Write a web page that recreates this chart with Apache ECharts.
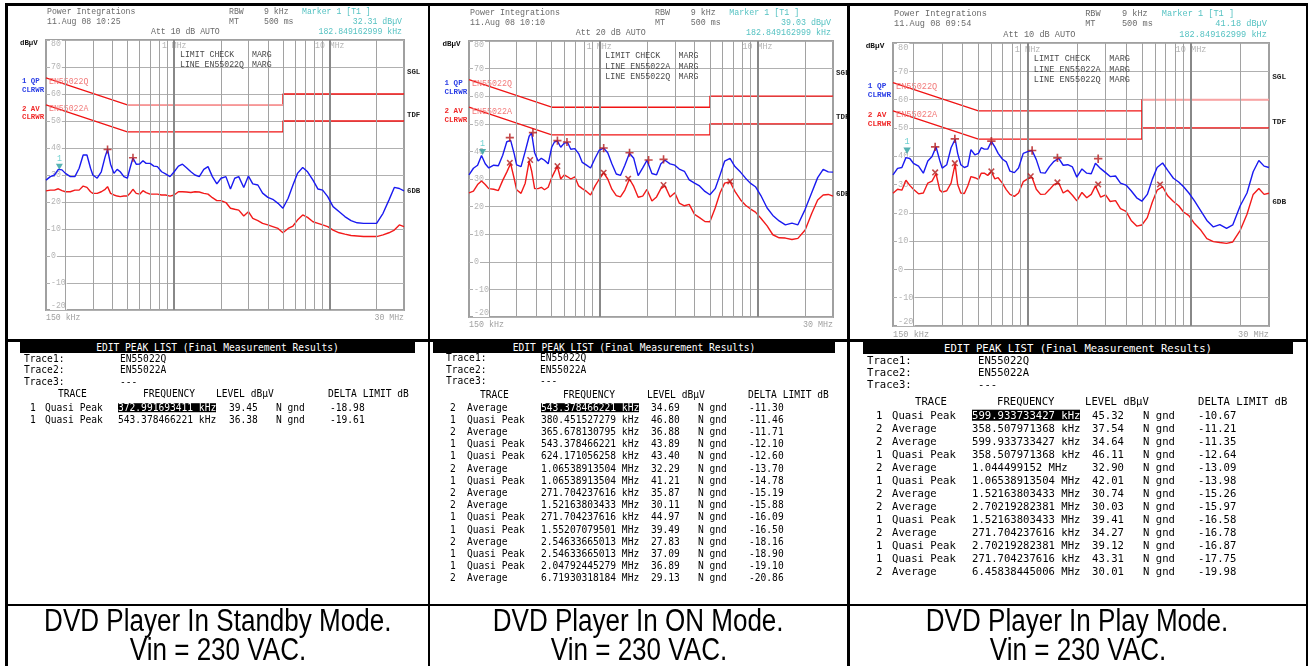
<!DOCTYPE html>
<html>
<head>
<meta charset="utf-8">
<title>Conducted EMI - DVD player</title>
<script src="https://cdn.jsdelivr.net/npm/echarts@6.0.0/dist/echarts.min.js"></script>
<style>
  html, body { margin: 0; padding: 0; background: #fff; }
  #page { position: relative; width: 1313px; height: 666px; overflow: hidden; }
  #chart { position: absolute; left: 0; top: 0; width: 1313px; height: 666px; }
  .rule { position: absolute; background: #000; }
  .t { position: absolute; white-space: pre; line-height: 1; transform: translateY(-50%);
       font-family: "DejaVu Sans Mono", "Liberation Mono", monospace; color: #000; }
  .bar { position: absolute; background: #000; color: #fff; text-align: center; white-space: pre;
         font-family: "DejaVu Sans Mono", "Liberation Mono", monospace; }
  .hl { background: #000; color: #fff; }
  .cap { position: absolute; top: 606px; width: 500px; text-align: center;
         font-family: "Liberation Sans", Arial, sans-serif; font-size: 31px; line-height: 29px; }
  .cap span { display: inline-block; transform: scaleX(0.84); white-space: nowrap; }
</style>
</head>
<body>
<div id="page">
  <div id="chart"></div>
  <div id="lists"></div>
</div>
<script>
// sweep frequencies the traces were read at (kHz)
const freqKHz = [
  150, 160, 170, 180, 190, 200,
  215, 230, 245, 260, 275, 290,
  300, 320, 340, 360, 373, 390,
  410, 430, 450, 475, 500, 520,
  543, 570, 600, 630, 660, 700,
  740, 780, 830, 880, 940, 1000,
  1065, 1130, 1200, 1280, 1360, 1450,
  1550, 1650, 1760, 1880, 2000, 2150,
  2300, 2450, 2600, 2800, 3000, 3200,
  3450, 3700, 4000, 4300, 4650, 5000,
  5400, 5800, 6200, 6700, 7200, 7800,
  8400, 9000, 9700, 10500, 11500, 12500,
  13700, 15000, 16500, 18000, 20000, 22000,
  24000, 26000, 28000, 30000
];

// standby mode, dBuV
const standbyQP = [
  28.1, 29.4, 30.0, 32.1, 31.9, 30.6,
  29.4, 29.4, 32.5, 37.4, 37.4, 32.5,
  30.0, 28.8, 31.2, 36.8, 39.45, 34.0,
  30.6, 32.1, 31.2, 29.4, 28.8, 32.5,
  36.3, 34.0, 34.1, 35.3, 34.3, 34.3,
  33.3, 33.1, 31.2, 30.4, 29.4, 31.2,
  33.3, 34.0, 32.7, 31.2, 30.0, 29.4,
  32.1, 33.1, 29.4, 26.7, 28.8, 29.4,
  24.8, 28.8, 29.4, 25.4, 29.6, 26.7,
  26.3, 23.3, 21.7, 21.0, 19.5, 17.7,
  21.4, 26.3, 30.6, 32.8, 31.2, 28.1,
  24.8, 24.4, 22.0, 18.3, 16.4, 14.6,
  13.1, 12.3, 12.1, 12.1, 12.1, 15.8,
  20.7, 25.4, 25.0, 24.1
];
const standbyAV = [
  24.1, 24.4, 24.4, 24.9, 24.2, 23.8,
  23.8, 24.4, 24.4, 25.9, 25.4, 23.8,
  23.2, 23.2, 23.8, 24.7, 25.7, 23.2,
  22.6, 22.2, 22.0, 22.2, 22.2, 23.2,
  24.7, 23.2, 22.9, 24.2, 23.5, 22.9,
  22.9, 22.9, 22.6, 22.6, 22.2, 22.6,
  23.8, 23.8, 23.7, 23.5, 23.8, 23.7,
  23.2, 22.9, 21.6, 20.5, 20.5, 19.8,
  17.7, 17.3, 17.0, 14.8, 16.4, 13.9,
  13.1, 12.1, 11.5, 10.9, 10.2, 8.6,
  10.2, 11.1, 13.3, 15.2, 14.3, 12.7,
  12.1, 11.5, 10.9, 9.6, 8.6, 8.1,
  7.6, 7.4, 7.2, 7.2, 7.2, 7.8,
  8.6, 9.6, 11.5, 10.9
];

// on mode
const onQP = [
  31.5, 33.9, 35.0, 38.5, 35.5, 34.0,
  35.0, 34.8, 38.6, 43.5, 44.0, 39.0,
  35.1, 34.5, 40.0, 45.5, 46.7, 39.5,
  36.5, 37.5, 36.8, 35.5, 41.5, 43.4,
  43.8, 41.5, 43.0, 43.2, 40.8, 41.0,
  39.2, 36.0, 35.0, 34.0, 37.5, 40.5,
  41.2, 39.5, 35.5, 31.8, 31.3, 35.0,
  39.3, 37.5, 31.2, 34.0, 36.8, 32.0,
  31.5, 35.5, 36.8, 35.5, 35.0, 33.6,
  32.8, 29.7, 28.5, 27.5, 25.5, 24.3,
  26.5, 31.5, 36.5, 37.5, 34.5, 32.5,
  30.3, 28.5, 27.2, 24.0, 19.5, 16.8,
  14.8, 13.4, 14.0, 13.4, 19.0, 25.0,
  30.5, 33.5, 32.6, 32.5
];
const onAV = [
  25.0, 25.6, 28.0, 29.3, 28.0, 26.5,
  26.3, 25.8, 29.5, 32.5, 35.6, 30.0,
  26.1, 24.8, 28.5, 36.5, 33.0, 26.5,
  26.5, 27.0, 26.1, 27.0, 30.5, 32.5,
  34.6, 30.0, 31.5, 30.8, 30.0, 30.8,
  27.5, 26.5, 25.5, 24.2, 27.5, 30.0,
  32.2, 30.0, 26.3, 24.0, 23.5, 26.0,
  30.0, 27.3, 23.4, 23.8, 26.2, 22.0,
  23.5, 26.5, 27.5, 23.5, 25.0, 21.3,
  20.3, 20.8, 17.2, 16.0, 14.6, 14.5,
  19.5, 25.0, 28.5, 29.0, 25.5, 22.5,
  20.5, 19.2, 18.0, 15.8, 13.0, 9.8,
  8.7, 8.6, 8.1, 8.5, 11.5, 17.5,
  22.4, 24.2, 24.4, 23.8
];

// play mode
const playQP = [
  33.4, 35.7, 36.0, 39.5, 39.2, 37.5,
  36.5, 34.0, 38.3, 39.9, 43.3, 38.5,
  35.8, 37.0, 43.0, 46.0, 41.0, 37.0,
  36.0, 36.5, 42.3, 40.5, 41.0, 43.0,
  42.5, 42.5, 45.2, 43.3, 41.0, 39.0,
  38.0, 34.7, 34.2, 35.8, 41.0, 41.6,
  42.0, 38.8, 34.2, 34.0, 36.3, 38.2,
  39.2, 36.8, 37.0, 36.2, 32.6, 35.5,
  34.0, 33.8, 37.5, 35.6, 34.2, 32.8,
  33.0, 30.5, 29.8, 27.8, 25.3, 24.1,
  26.5, 31.9, 36.0, 37.6, 35.0, 32.2,
  30.9, 29.2, 27.0, 24.2, 20.6, 17.3,
  15.0, 15.8, 14.5, 15.7, 22.5, 27.0,
  34.5, 38.5, 36.5, 36.0
];
const playAV = [
  26.9, 28.3, 28.0, 31.5, 29.7, 28.3,
  26.7, 27.0, 30.5, 31.2, 33.8, 28.0,
  27.3, 27.8, 30.5, 37.3, 30.0, 27.0,
  26.8, 29.5, 32.8, 32.4, 31.8, 34.0,
  34.0, 33.2, 34.5, 32.0, 32.4, 30.5,
  28.2, 26.5, 25.8, 27.0, 31.0, 32.0,
  32.5, 28.3, 26.5, 26.6, 28.2, 30.0,
  30.5, 27.0, 28.0, 26.2, 24.2, 27.2,
  25.3, 26.5, 29.5, 25.5, 26.3, 24.0,
  24.3, 21.5, 20.5, 17.3, 15.3, 15.7,
  18.3, 23.8, 28.0, 29.2, 26.0, 24.0,
  22.5, 20.3, 19.0, 16.2, 13.8, 10.9,
  9.8, 9.5, 9.2, 9.7, 13.8, 19.5,
  26.5, 28.6, 26.5, 26.9
];

// EN55022 class B limits
const limitFreqKHz = [150, 500, 5000, 5000, 30000];
const limitQP = [66, 56, 56, 60, 60];
const limitAV = [56, 46, 46, 50, 50];
// the play-mode screen has an extra vertical at 5 MHz joining the two limits
const limitFreqPlayAV = [150, 500, 5000, 5000, 5000, 30000];
const limitPlayAV = [56, 46, 46, 56, 50, 50];

const gridFreqKHz = [200, 300, 400, 500, 600, 700, 800, 900, 1000,
  2000, 3000, 4000, 5000, 6000, 7000, 8000, 9000, 10000, 20000];

const markerFreqHz = 182849.162999;
const markerLevel = [32.31, 39.03, 41.18];
const screenDate = ['11.Aug 08 10:25', '11.Aug 08 10:10', '11.Aug 08 09:54'];
const screenAtt = ['Att 10 dB AUTO', 'Att 20 dB AUTO', 'Att 10 dB AUTO'];
const limitCheckLines = [
  ['LINE EN55022Q'],
  ['LINE EN55022A', 'LINE EN55022Q'],
  ['LINE EN55022A', 'LINE EN55022Q']
];

// peak lists: trace, detector, frequency, level, delta limit
const peaksStandby = [
  ['1', 'Quasi Peak', '372.991693411 kHz', '39.45', '-18.98'],
  ['1', 'Quasi Peak', '543.378466221 kHz', '36.38', '-19.61']
];
const peaksOn = [
  ['2', 'Average', '543.378466221 kHz', '34.69', '-11.30'],
  ['1', 'Quasi Peak', '380.451527279 kHz', '46.80', '-11.46'],
  ['2', 'Average', '365.678130795 kHz', '36.88', '-11.71'],
  ['1', 'Quasi Peak', '543.378466221 kHz', '43.89', '-12.10'],
  ['1', 'Quasi Peak', '624.171056258 kHz', '43.40', '-12.60'],
  ['2', 'Average', '1.06538913504 MHz', '32.29', '-13.70'],
  ['1', 'Quasi Peak', '1.06538913504 MHz', '41.21', '-14.78'],
  ['2', 'Average', '271.704237616 kHz', '35.87', '-15.19'],
  ['2', 'Average', '1.52163803433 MHz', '30.11', '-15.88'],
  ['1', 'Quasi Peak', '271.704237616 kHz', '44.97', '-16.09'],
  ['1', 'Quasi Peak', '1.55207079501 MHz', '39.49', '-16.50'],
  ['2', 'Average', '2.54633665013 MHz', '27.83', '-18.16'],
  ['1', 'Quasi Peak', '2.54633665013 MHz', '37.09', '-18.90'],
  ['1', 'Quasi Peak', '2.04792445279 MHz', '36.89', '-19.10'],
  ['2', 'Average', '6.71930318184 MHz', '29.13', '-20.86']
];
const peaksPlay = [
  ['1', 'Quasi Peak', '599.933733427 kHz', '45.32', '-10.67'],
  ['2', 'Average', '358.507971368 kHz', '37.54', '-11.21'],
  ['2', 'Average', '599.933733427 kHz', '34.64', '-11.35'],
  ['1', 'Quasi Peak', '358.507971368 kHz', '46.11', '-12.64'],
  ['2', 'Average', '1.044499152 MHz', '32.90', '-13.09'],
  ['1', 'Quasi Peak', '1.06538913504 MHz', '42.01', '-13.98'],
  ['2', 'Average', '1.52163803433 MHz', '30.74', '-15.26'],
  ['2', 'Average', '2.70219282381 MHz', '30.03', '-15.97'],
  ['1', 'Quasi Peak', '1.52163803433 MHz', '39.41', '-16.58'],
  ['2', 'Average', '271.704237616 kHz', '34.27', '-16.78'],
  ['1', 'Quasi Peak', '2.70219282381 MHz', '39.12', '-16.87'],
  ['1', 'Quasi Peak', '271.704237616 kHz', '43.31', '-17.75'],
  ['2', 'Average', '6.45838445006 MHz', '30.01', '-19.98']
];

const captions = [
  ['DVD Player In Standby Mode.', 'Vin = 230 VAC.'],
  ['DVD Player In ON Mode.', 'Vin = 230 VAC.'],
  ['DVD Player In Play Mode.', 'Vin = 230 VAC.']
];

// ---- layout ----
const MONO = '"Liberation Mono", "Courier New", monospace';
const panels = [
  {
    grid: [46, 40, 358, 270], qp: standbyQP, av: standbyAV, peaks: peaksStandby,
    avF: limitFreqKHz, avL: limitAV, fadeQP: [1, 3],
    list: { bar: [20, 341.5, 395, 11.5], fs: 9.6, traceX: [24, 120], traceY: [358.5, 370.2, 381.8],
            headY: 394, headX: [58, 143, 216, 328], rowY: 407.5, dy: 12, colX: [30, 45, 118, 229, 276, 330] }
  },
  {
    grid: [469, 41, 364, 276], qp: onQP, av: onAV, peaks: peaksOn,
    avF: limitFreqKHz, avL: limitAV, fadeQP: null,
    list: { bar: [433, 341.5, 402, 11.5], fs: 9.6, traceX: [446, 540], traceY: [358, 369.7, 381.3],
            headY: 395, headX: [480, 563, 647, 748], rowY: 407.5, dy: 12.2, colX: [450, 467, 541, 651, 698, 749] }
  },
  {
    grid: [893, 43, 376, 283], qp: playQP, av: playAV, peaks: peaksPlay,
    avF: limitFreqPlayAV, avL: limitPlayAV, fadeQP: [3, 5],
    list: { bar: [863, 341.5, 430, 12], fs: 10.6, traceX: [867, 978], traceY: [359.5, 371.5, 383.5],
            headY: 401, headX: [915, 997, 1085, 1198], rowY: 415, dy: 13, colX: [876, 892, 972, 1092, 1143, 1198] }
  }
];

const near = (v, t) => Math.abs(v / t - 1) < 1e-6;
const toHz = s => { const p = s.split(' '); return parseFloat(p[0]) * (p[1] === 'MHz' ? 1e6 : 1e3); };
const PLUS = 'path://M4,0H6V4H10V6H6V10H4V6H0V4H4Z';

const grids = [], xAxes = [], yAxes = [], series = [], graphics = [];

panels.forEach((p, i) => {
  const [L, T, W, H] = p.grid;
  const k = W / 358;
  const fs = +(8.2 * k).toFixed(2);
  const xb = i, xt = 3 + i;

  grids.push({ left: L, top: T, width: W, height: H, show: true,
    backgroundColor: '#fff', borderColor: '#a0a0a0', borderWidth: 2 });

  const logAxis = { type: 'log', logBase: 10, gridIndex: i, min: 150000, max: 30000000,
    axisLine: { show: false }, axisTick: { show: false }, splitLine: { show: false } };
  xAxes[xb] = Object.assign({}, logAxis, { position: 'bottom',
    axisLabel: { margin: 4, color: '#a0a0a0', fontFamily: MONO, fontSize: fs,
      showMinLabel: true, showMaxLabel: true, alignMinLabel: 'left', alignMaxLabel: 'right',
      formatter: v => near(v, 150000) ? '150 kHz' : near(v, 30000000) ? '30 MHz' : '' } });
  xAxes[xt] = Object.assign({}, logAxis, { position: 'top',
    axisLabel: { inside: true, margin: 2, color: '#b4b4b4', fontFamily: MONO, fontSize: fs,
      backgroundColor: '#fff', showMinLabel: false, showMaxLabel: false,
      formatter: v => near(v, 1e6) ? '1 MHz' : near(v, 1e7) ? '10 MHz' : '' } });

  yAxes.push({ type: 'value', gridIndex: i, min: -20, max: 80, interval: 10,
    axisLine: { show: false }, axisTick: { show: false },
    splitLine: { show: true, lineStyle: { color: '#b0b0b0', width: 1 } },
    axisLabel: { inside: true, margin: 4, color: '#b4b4b4', fontFamily: MONO, fontSize: fs,
      backgroundColor: '#fff', padding: [0, 1],
      verticalAlignMinLabel: 'bottom', verticalAlignMaxLabel: 'top' } });

  // vertical 1-2-...-9 grid
  series.push({ type: 'line', xAxisIndex: xb, yAxisIndex: i, data: [], silent: true, z: 1,
    markLine: { silent: true, symbol: 'none', animation: false, label: { show: false },
      data: gridFreqKHz.map(f => {
        const major = f === 1000 || f === 10000;
        return { xAxis: f * 1000, lineStyle: { type: 'solid', color: major ? '#888' : '#a2a2a2', width: major ? 2 : 1 } };
      }) } });

  const limitSeries = (fKHz, lv, label) => ({
    type: 'line', xAxisIndex: xb, yAxisIndex: i, z: 3, silent: true,
    symbol: 'circle', symbolSize: 0, showSymbol: true,
    itemStyle: { color: 'rgba(0,0,0,0)', borderWidth: 0 },
    lineStyle: { color: '#f01414', width: 1.3 },
    data: fKHz.map((f, j) => j === 0 ? {
      value: [f * 1000, lv[j]],
      label: { show: true, formatter: label, position: 'right', distance: 3, offset: [0, 4 * k],
        color: '#f27c7c', fontFamily: MONO, fontSize: fs }
    } : [f * 1000, lv[j]])
  });
  series.push(limitSeries(limitFreqKHz, limitQP, 'EN55022Q'));
  series.push(limitSeries(p.avF, p.avL, 'EN55022A'));
  if (p.fadeQP) {
    series.push({ type: 'line', xAxisIndex: xb, yAxisIndex: i, z: 3, silent: true, symbol: 'none',
      lineStyle: { color: '#f7a4a4', width: 1.6 },
      data: limitFreqKHz.slice(p.fadeQP[0], p.fadeQP[1]).map((f, j) => [f * 1000, limitQP[p.fadeQP[0] + j]]) });
  }

  series.push({ type: 'line', xAxisIndex: xb, yAxisIndex: i, z: 4, silent: true, symbol: 'none',
    lineStyle: { color: '#f21a1a', width: 1.4 },
    data: freqKHz.map((f, j) => [f * 1000, p.av[j]]) });
  series.push({ type: 'line', xAxisIndex: xb, yAxisIndex: i, z: 5, silent: true, symbol: 'none',
    lineStyle: { color: '#1a1af0', width: 1.4 },
    data: freqKHz.map((f, j) => [f * 1000, p.qp[j]]) });

  const qpPk = p.peaks.filter(r => r[0] === '1').map(r => [toHz(r[2]), +r[3]]);
  const avPk = p.peaks.filter(r => r[0] === '2').map(r => [toHz(r[2]), +r[3]]);
  series.push({ type: 'scatter', xAxisIndex: xb, yAxisIndex: i, z: 6, silent: true,
    symbol: PLUS, symbolSize: 8 * k, itemStyle: { color: '#b51c1c' }, data: qpPk });
  series.push({ type: 'scatter', xAxisIndex: xb, yAxisIndex: i, z: 6, silent: true,
    symbol: PLUS, symbolRotate: 45, symbolSize: 7.5 * k, itemStyle: { color: '#b51c1c' }, data: avPk });
  series.push({ type: 'scatter', xAxisIndex: xb, yAxisIndex: i, z: 7, silent: true,
    symbol: 'triangle', symbolRotate: 180, symbolSize: [7 * k, 6 * k], symbolOffset: [0, -2 * k],
    itemStyle: { color: '#2a9e9e' }, data: [[markerFreqHz, markerLevel[i]]],
    label: { show: true, formatter: '1', position: 'top', distance: 1, color: '#48c4c4',
      fontFamily: MONO, fontSize: fs } });

  // analyzer screen annotations
  const txt = (dx, dy, text, fill, o) => {
    o = o || {};
    graphics.push({ type: 'text', x: L + dx * k, y: T + dy * k, silent: true, z: 10,
      style: { text, fill, align: o.align || 'left', verticalAlign: 'middle',
        font: (o.bold ? 'bold ' : '') + (o.size || fs) + 'px ' + MONO } });
  };
  const grey = '#6a6a6a', cyan = '#55c2c2';
  txt(1, -27.7, 'Power Integrations', grey);
  txt(1, -18, screenDate[i], grey);
  txt(105, -8, screenAtt[i], grey);
  txt(183, -27.7, 'RBW', grey);
  txt(218, -27.7, '9 kHz', grey);
  txt(256, -27.7, 'Marker 1 [T1 ]', cyan);
  txt(183, -18, 'MT', grey);
  txt(218, -18, '500 ms', grey);
  txt(356, -18, markerLevel[i].toFixed(2) + ' dBµV', cyan, { align: 'right' });
  txt(356, -8, '182.849162999 kHz', cyan, { align: 'right' });

  const small = +(7.4 * k).toFixed(2);
  txt(-26, 3, 'dBµV', '#111', { bold: true, size: small });
  txt(-24, 41, '1 QP', '#2a3ee6', { bold: true, size: small });
  txt(-24, 50, 'CLRWR', '#2a3ee6', { bold: true, size: small });
  txt(-24, 69, '2 AV', '#f02828', { bold: true, size: small });
  txt(-24, 77.5, 'CLRWR', '#f02828', { bold: true, size: small });
  txt(361, 32, 'SGL', '#222', { bold: true, size: small });
  txt(361, 75, 'TDF', '#222', { bold: true, size: small });
  txt(361, 151, '6DB', '#222', { bold: true, size: small });

  const lc = ['LIMIT CHECK'].concat(limitCheckLines[i]);
  lc.forEach((s, j) => {
    txt(134, 15 + 10 * j, s, '#4a4a4a');
    txt(206, 15 + 10 * j, 'MARG', '#4a4a4a');
  });
});

const chart = echarts.init(document.getElementById('chart'), null, { renderer: 'canvas' });
chart.setOption({
  animation: false,
  backgroundColor: '#fff',
  grid: grids,
  xAxis: xAxes,
  yAxis: yAxes,
  series: series,
  graphic: graphics
});

// ---- peak lists, captions and table rules ----
const lists = document.getElementById('lists');
function put(x, y, text, size, cls) {
  const d = document.createElement('div');
  d.className = 't' + (cls ? ' ' + cls : '');
  d.style.left = x + 'px';
  d.style.top = y + 'px';
  d.style.fontSize = size + 'px';
  d.textContent = text;
  lists.appendChild(d);
  return d;
}

panels.forEach(p => {
  const l = p.list;
  const bar = document.createElement('div');
  bar.className = 'bar';
  bar.style.left = l.bar[0] + 'px';
  bar.style.top = l.bar[1] + 'px';
  bar.style.width = l.bar[2] + 'px';
  bar.style.height = l.bar[3] + 'px';
  bar.style.lineHeight = l.bar[3] + 'px';
  bar.style.fontSize = l.fs + 'px';
  bar.textContent = 'EDIT PEAK LIST (Final Measurement Results)';
  lists.appendChild(bar);

  const traces = [['Trace1:', 'EN55022Q'], ['Trace2:', 'EN55022A'], ['Trace3:', '---']];
  traces.forEach((t, j) => {
    put(l.traceX[0], l.traceY[j], t[0], l.fs);
    put(l.traceX[1], l.traceY[j], t[1], l.fs);
  });
  ['TRACE', 'FREQUENCY', 'LEVEL dBµV', 'DELTA LIMIT dB'].forEach((h, j) => put(l.headX[j], l.headY, h, l.fs));

  p.peaks.forEach((r, j) => {
    const y = l.rowY + j * l.dy;
    put(l.colX[0], y, r[0], l.fs);
    put(l.colX[1], y, r[1], l.fs);
    put(l.colX[2], y, r[2], l.fs, j === 0 ? 'hl' : '');
    put(l.colX[3], y, r[3], l.fs);
    put(l.colX[4], y, 'N gnd', l.fs);
    put(l.colX[5], y, r[4], l.fs);
  });
});

const capCenters = [217.5, 638.5, 1077.5];
captions.forEach((c, i) => {
  const d = document.createElement('div');
  d.className = 'cap';
  d.style.left = (capCenters[i] - 250) + 'px';
  d.innerHTML = '<span>' + c[0] + '</span><br><span>' + c[1] + '</span>';
  lists.appendChild(d);
});

const rules = [
  [5, 3, 1303, 2.5], [5, 3, 2.5, 663], [427.5, 3, 2.5, 663], [847, 3, 2.5, 663], [1305.5, 3, 2.5, 663],
  [5, 339, 1303, 2.5], [5, 604, 1303, 2]
];
rules.forEach(r => {
  const d = document.createElement('div');
  d.className = 'rule';
  d.style.left = r[0] + 'px';
  d.style.top = r[1] + 'px';
  d.style.width = r[2] + 'px';
  d.style.height = r[3] + 'px';
  lists.appendChild(d);
});
</script>
</body>
</html>
